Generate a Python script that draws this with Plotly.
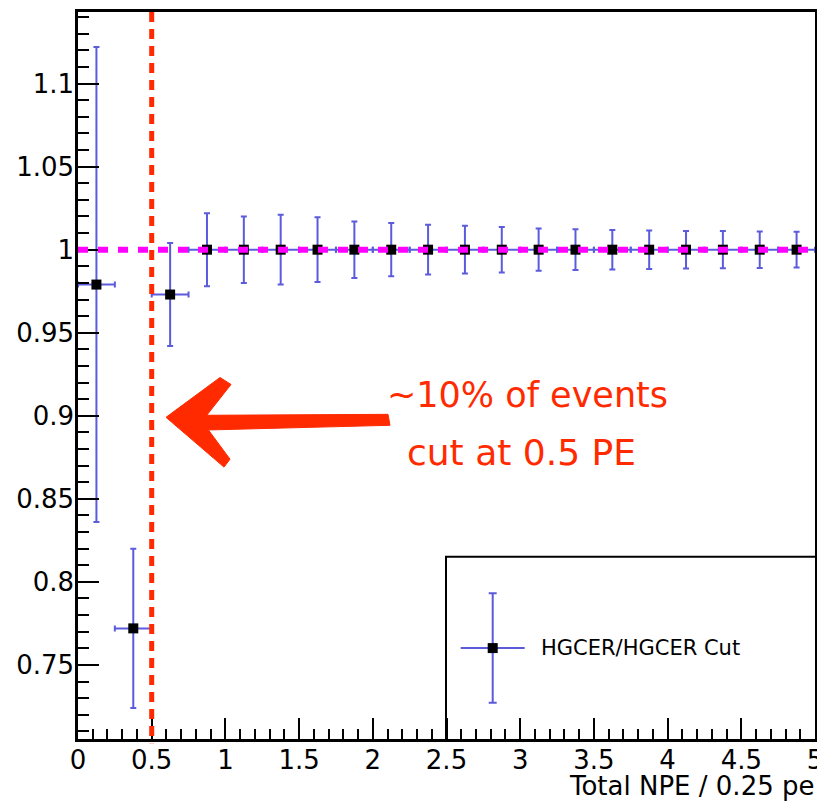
import plotly.graph_objects as go

# ---------------- data ----------------
bin_centers = [0.125, 0.375, 0.625, 0.875, 1.125, 1.375, 1.625, 1.875, 2.125, 2.375,
               2.625, 2.875, 3.125, 3.375, 3.625, 3.875, 4.125, 4.375, 4.625, 4.875]
ratio = [0.979, 0.772, 0.973, 1.0, 1.0, 1.0, 1.0, 1.0, 1.0, 1.0,
         1.0, 1.0, 1.0, 1.0, 1.0, 1.0, 1.0, 1.0, 1.0, 1.0]
ratio_err = [0.143, 0.048, 0.031, 0.022, 0.020, 0.021, 0.0195, 0.017, 0.016, 0.015,
             0.0144, 0.0137, 0.0127, 0.0123, 0.0119, 0.0116, 0.0113, 0.0112, 0.011, 0.0108]
bin_half_width = [0.125] * 20

x_tickvals = [0, 0.5, 1, 1.5, 2, 2.5, 3, 3.5, 4, 4.5, 5]
x_ticktext = ["0", "0.5", "1", "1.5", "2", "2.5", "3", "3.5", "4", "4.5", "5"]
y_tickvals = [0.75, 0.8, 0.85, 0.9, 0.95, 1.0, 1.05, 1.1]
y_ticktext = ["0.75", "0.8", "0.85", "0.9", "0.95", "1", "1.05", "1.1"]

cut_value = 0.5
reference_level = 1.0
series_name = "HGCER/HGCER Cut"
x_title = "Total NPE / 0.25 pe"
note_lines = ["~10% of events", "cut at 0.5 PE"]

# ---------------- layout helpers ----------------
# the page body adds an 8px margin at the top-left of the figure
OFF = 8
W, H = 825 - OFF, 804 - OFF
# plot-area edges in window pixels
L, R, T, B = 78, 815, 9, 739
FONT = "DejaVu Sans"
ERR_COLOR = "#5b5bdc"
RED = "#ff2a00"


def px_x(p):
    return (p - L) / (R - L)


def px_y(p):
    return (B - p) / (B - T)


fig = go.Figure()

fig.add_trace(go.Scatter(
    x=bin_centers, y=ratio, mode="markers",
    marker=dict(symbol="square", size=10, color="black"),
    error_y=dict(type="data", array=ratio_err, color=ERR_COLOR, thickness=2, width=3),
    error_x=dict(type="data", array=bin_half_width, color=ERR_COLOR, thickness=2, width=3),
    showlegend=False, hoverinfo="x+y",
))

# legend glyph (marker with error cross) on an overlay axis in paper-like units
fig.add_trace(go.Scatter(
    x=[px_x(492.7)], y=[px_y(647.7)], mode="markers", xaxis="x2", yaxis="y2",
    marker=dict(symbol="square", size=10, color="black"),
    error_y=dict(type="data", array=[55 / (B - T)], color=ERR_COLOR, thickness=2, width=4),
    error_x=dict(type="data", array=[32 / (R - L)], color=ERR_COLOR, thickness=2, width=0),
    showlegend=False, hoverinfo="skip",
))

shapes = [
    # legend box
    dict(type="rect", xref="paper", yref="paper", x0=px_x(446), x1=px_x(816),
         y0=px_y(740), y1=px_y(556), line=dict(color="black", width=2),
         fillcolor="white", layer="below"),
    # reference line at 1
    dict(type="line", xref="x", yref="y", x0=0, x1=5, y0=reference_level, y1=reference_level,
         line=dict(color="#ff00ff", width=6, dash="10px,10px"), layer="above"),
    # cut line
    dict(type="line", xref="x", yref="paper", x0=cut_value, x1=cut_value, y0=1.0, y1=-0.006,
         line=dict(color=RED, width=5, dash="10px,7px"), layer="above"),
    # arrow shaft
    dict(type="path", xref="paper", yref="paper", fillcolor=RED, line=dict(color=RED, width=1),
         path="M {} {} L {} {} L {} {} L {} {} Z".format(
             px_x(196), px_y(414), px_x(388), px_y(413),
             px_x(390), px_y(424), px_x(196), px_y(429))),
    # arrow head
    dict(type="path", xref="paper", yref="paper", fillcolor=RED, line=dict(color=RED, width=1),
         path="M {} {} L {} {} L {} {} L {} {} L {} {} L {} {} Z".format(
             px_x(166), px_y(416), px_x(220), px_y(376), px_x(231), px_y(383),
             px_x(202), px_y(420), px_x(230), px_y(458), px_x(224), px_y(466))),
]

annotations = [
    dict(text=series_name, xref="paper", yref="paper", x=px_x(539), y=px_y(648),
         xanchor="left", yanchor="middle", showarrow=False,
         font=dict(family=FONT, size=21, color="black")),
    dict(text=x_title, xref="paper", yref="paper", x=1.0, y=0, xanchor="right",
         yanchor="top", yshift=-31, xshift=1, showarrow=False, borderpad=0,
         font=dict(family=FONT, size=26, color="black")),
    dict(text=note_lines[0], xref="paper", yref="paper", x=px_x(527), y=px_y(394),
         xanchor="center", yanchor="middle", showarrow=False,
         font=dict(family=FONT, size=35, color=RED)),
    dict(text=note_lines[1], xref="paper", yref="paper", x=px_x(521), y=px_y(451),
         xanchor="center", yanchor="middle", showarrow=False,
         font=dict(family=FONT, size=36, color=RED)),
]

axis_common = dict(
    showline=True, mirror=True, linecolor="black", linewidth=2.5,
    showgrid=False, zeroline=False, ticks="inside", tickcolor="black",
    tickwidth=2, ticklen=21, tickmode="array",
    tickfont=dict(family=FONT, size=26, color="black"),
)

fig.update_layout(
    width=W, height=H,
    margin=dict(l=L - OFF, r=W + OFF - R, t=T - OFF, b=H + OFF - B),
    paper_bgcolor="white", plot_bgcolor="white",
    xaxis=dict(range=[0, 5], tickvals=x_tickvals, ticktext=x_ticktext,
               ticklabelstandoff=-4, ticklabeloverflow="allow",
               minor=dict(tickmode="linear", tick0=0, dtick=0.1, ticks="inside",
                          ticklen=10, tickwidth=2, tickcolor="black"),
               **axis_common),
    yaxis=dict(range=[0.7054, 1.1431], tickvals=y_tickvals, ticktext=y_ticktext,
               ticklabelstandoff=-4,
               minor=dict(tickmode="linear", tick0=0, dtick=0.01, ticks="inside",
                          ticklen=11, tickwidth=2, tickcolor="black"),
               **axis_common),
    xaxis2=dict(range=[0, 1], overlaying="x", anchor="y2", visible=False),
    yaxis2=dict(range=[0, 1], overlaying="y", anchor="x2", visible=False),
    shapes=shapes,
    annotations=annotations,
    showlegend=False,
)

fig.write_html("out.html")
